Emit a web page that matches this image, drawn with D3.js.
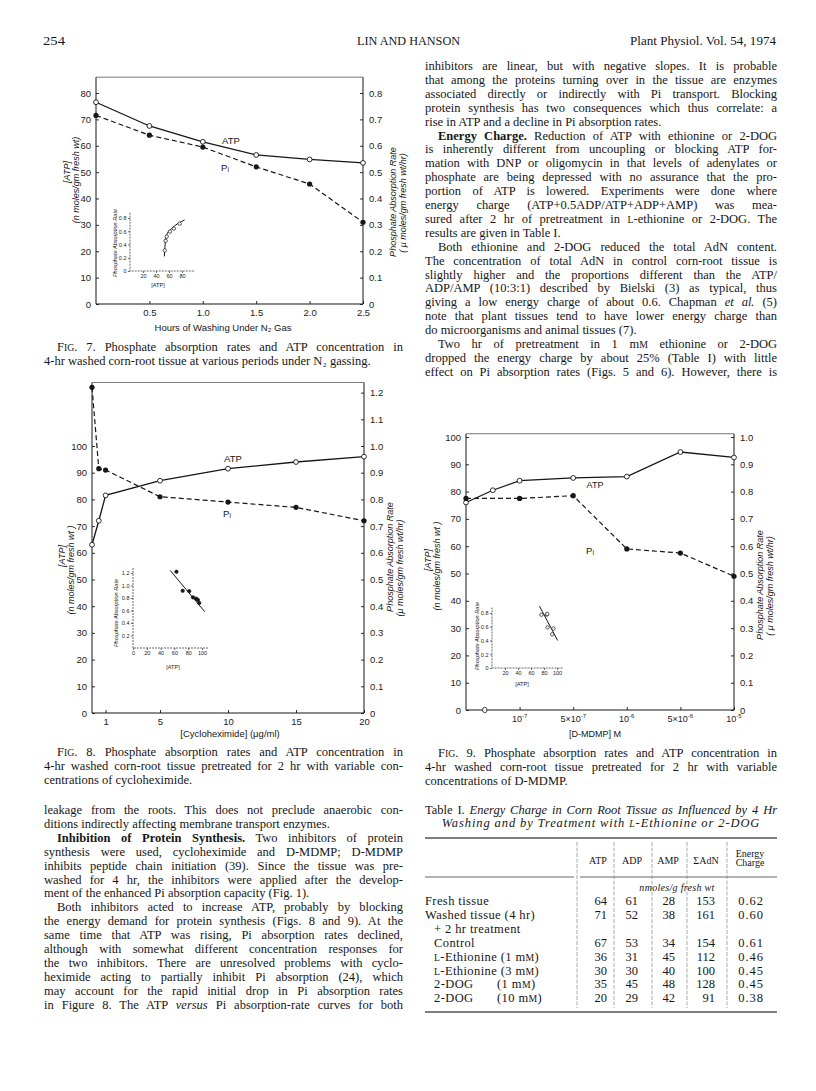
<!DOCTYPE html>
<html>
<head>
<meta charset="utf-8">
<script src="https://cdn.jsdelivr.net/npm/d3@7/dist/d3.min.js"></script>
<style>
  body { margin: 0; background: #fff; }
  svg { display: block; }
</style>
</head>
<body>
<svg id="page" width="816" height="1091"></svg>
<script>
// Fig. 7 - hours of washing under N2
const hoursN2 = [0, 0.5, 1.0, 1.5, 2.0, 2.5];
const atpN2 = [76.5, 67.5, 61.5, 56.5, 54.8, 53.5];
const piN2 = [0.715, 0.64, 0.595, 0.52, 0.455, 0.31];
const fitN2 = [[52.8, 0.22], [54.5, 0.45], [57, 0.56], [64, 0.64], [84, 0.77]];

// Fig. 8 - cycloheximide (ug/ml)
const cycloDose = [0, 0.5, 1, 5, 10, 15, 20];
const atpCyclo = [63, 72, 81.5, 87, 91.5, 94, 96];
const piCyclo = [1.22, 0.915, 0.91, 0.81, 0.79, 0.77, 0.72];
const fitCyclo = [[54, 1.24], [104, 0.58]];

// Fig. 9 - D-MDMP (M)
const mdmpAtpConc = [0, 5e-8, 1e-7, 5e-7, 1e-6, 5e-6, 1e-5];
const atpMdmp = [76, 80.5, 84, 85, 85.5, 94.5, 92.5];
const mdmpPiConc = [0, 1e-7, 5e-7, 1e-6, 5e-6, 1e-5];
const piMdmp = [0.775, 0.775, 0.785, 0.59, 0.575, 0.49];
const mdmpTicks = [1e-7, 5e-7, 1e-6, 5e-6, 1e-5];
const mdmpTickLabels = [["10", "-7"], ["5×10", "-7"], ["10", "-6"], ["5×10", "-6"], ["10", "-5"]];
const fitMdmp = [[73, 0.9], [101, 0.4]];

// Table I
const tableRows = ["Fresh tissue", "Washed tissue (4 hr)", "+ 2 hr treatment", "Control",
  "^L^-Ethionine (1 m^M^)", "^L^-Ethionine (3 m^M^)", "2-DOG", "2-DOG"];
const tableDose = ["", "", "", "", "", "", "(1 m^M^)", "(10 m^M^)"];
const tableAtp = [64, 71, null, 67, 36, 30, 35, 20];
const tableAdp = [61, 52, null, 53, 31, 30, 45, 29];
const tableAmp = [28, 38, null, 34, 45, 40, 48, 42];
const tableAdn = [153, 161, null, 154, 112, 100, 128, 91];
const tableCharge = [0.62, 0.60, null, 0.61, 0.46, 0.45, 0.45, 0.38];

// body text: [line, indented, justified]
const leftText = [
  ["leakage from the roots. This does not preclude anaerobic con-", 0, 1],
  ["ditions indirectly affecting membrane transport enzymes.", 0, 0],
  ["**Inhibition of Protein Synthesis.** Two inhibitors of protein", 1, 1],
  ["synthesis were used, cycloheximide and D-MDMP; D-MDMP", 0, 1],
  ["inhibits peptide chain initiation (39). Since the tissue was pre-", 0, 1],
  ["washed for 4 hr, the inhibitors were applied after the develop-", 0, 1],
  ["ment of the enhanced Pi absorption capacity (Fig. 1).", 0, 0],
  ["Both inhibitors acted to increase ATP, probably by blocking", 1, 1],
  ["the energy demand for protein synthesis (Figs. 8 and 9). At the", 0, 1],
  ["same time that ATP was rising, Pi absorption rates declined,", 0, 1],
  ["although with somewhat different concentration responses for", 0, 1],
  ["the two inhibitors. There are unresolved problems with cyclo-", 0, 1],
  ["heximide acting to partially inhibit Pi absorption (24), which", 0, 1],
  ["may account for the rapid initial drop in Pi absorption rates", 0, 1],
  ["in Figure 8. The ATP _versus_ Pi absorption-rate curves for both", 0, 1]
];
const rightText = [
  ["inhibitors are linear, but with negative slopes. It is probable", 0, 1],
  ["that among the proteins turning over in the tissue are enzymes", 0, 1],
  ["associated directly or indirectly with Pi transport. Blocking", 0, 1],
  ["protein synthesis has two consequences which thus correlate: a", 0, 1],
  ["rise in ATP and a decline in Pi absorption rates.", 0, 0],
  ["**Energy Charge.** Reduction of ATP with ethionine or 2-DOG", 1, 1],
  ["is inherently different from uncoupling or blocking ATP for-", 0, 1],
  ["mation with DNP or oligomycin in that levels of adenylates or", 0, 1],
  ["phosphate are being depressed with no assurance that the pro-", 0, 1],
  ["portion of ATP is lowered. Experiments were done where", 0, 1],
  ["energy charge (ATP+0.5ADP/ATP+ADP+AMP) was mea-", 0, 1],
  ["sured after 2 hr of pretreatment in ^L^-ethionine or 2-DOG. The", 0, 1],
  ["results are given in Table I.", 0, 0],
  ["Both ethionine and 2-DOG reduced the total AdN content.", 1, 1],
  ["The concentration of total AdN in control corn-root tissue is", 0, 1],
  ["slightly higher and the proportions different than the ATP/", 0, 1],
  ["ADP/AMP (10:3:1) described by Bielski (3) as typical, thus", 0, 1],
  ["giving a low energy charge of about 0.6. Chapman _et al._ (5)", 0, 1],
  ["note that plant tissues tend to have lower energy charge than", 0, 1],
  ["do microorganisms and animal tissues (7).", 0, 0],
  ["Two hr of pretreatment in 1 m^M^ ethionine or 2-DOG", 1, 1],
  ["dropped the energy charge by about 25% (Table I) with little", 0, 1],
  ["effect on Pi absorption rates (Figs. 5 and 6). However, there is", 0, 1]
];
const cap7 = [
  ["F^IG^. 7. Phosphate absorption rates and ATP concentration in", 1, 1],
  ["4-hr washed corn-root tissue at various periods under N₂ gassing.", 0, 0]
];
const cap8 = [
  ["F^IG^. 8. Phosphate absorption rates and ATP concentration in", 1, 1],
  ["4-hr washed corn-root tissue pretreated for 2 hr with variable con-", 0, 1],
  ["centrations of cycloheximide.", 0, 0]
];
const cap9 = [
  ["F^IG^. 9. Phosphate absorption rates and ATP concentration in", 1, 1],
  ["4-hr washed corn-root tissue pretreated for 2 hr with variable", 0, 1],
  ["concentrations of D-MDMP.", 0, 0]
];

const svg = d3.select("#page");
const SERIF = "'Liberation Serif','Times New Roman',serif";
const SANS = "'Liberation Sans',Arial,sans-serif";
const INK = "#161616";
const STEP = 13.9;
const fmtRate = d => d === 0 ? "0" : d3.format(".1f")(d);

// one line of text, simple markup: **bold**, _italic_, ^small caps^
function drawLine(g, str, x, y, width, o = {}) {
  const size = o.size || 12.5;
  const t = g.append("text").attr("x", x).attr("y", y)
    .attr("font-family", SERIF).attr("font-size", size).attr("fill", INK);
  if (o.italic) t.attr("font-style", "italic");
  if (o.anchor) t.attr("text-anchor", o.anchor);
  if (o.ls) t.attr("letter-spacing", o.ls);
  let plain = "";
  str.split(/(\*\*[^*]+\*\*|_[^_]+_|\^[^^]+\^)/).filter(p => p).forEach(p => {
    let seg = p, ts;
    if (p.startsWith("**")) { seg = p.slice(2, -2); ts = t.append("tspan").attr("font-weight", "bold"); }
    else if (p.startsWith("_") && p.length > 2) { seg = p.slice(1, -1); ts = t.append("tspan").attr("font-style", "italic"); }
    else if (p.startsWith("^")) { seg = p.slice(1, -1); ts = t.append("tspan").attr("font-size", size * 0.78); }
    else ts = t.append("tspan");
    ts.text(seg);
    plain += seg;
  });
  if (width) {
    const gaps = (plain.match(/ /g) || []).length;
    const natural = t.node().getComputedTextLength();
    if (gaps) t.attr("word-spacing", ((width - natural) / gaps).toFixed(2));
  }
  return t;
}

function paragraph(lines, x0, x1, y0) {
  lines.forEach(([s, ind, just], i) => {
    const x = x0 + (ind ? 13 : 0);
    drawLine(svg, s, x, y0 + i * STEP, just ? x1 - x : 0);
  });
}

function sansText(g, str, x, y, size, o = {}) {
  const t = g.append("text").attr("font-family", SANS).attr("font-size", size)
    .attr("fill", INK).attr("text-anchor", o.anchor || "middle")
    .attr("dominant-baseline", "central");
  if (o.italic) t.attr("font-style", "italic");
  if (o.rotate) t.attr("transform", `translate(${x},${y}) rotate(-90)`);
  else t.attr("x", x).attr("y", y);
  t.text(str);
  return t;
}

function piLabel(g, x, y) {
  const t = g.append("text").attr("x", x).attr("y", y).attr("font-family", SANS)
    .attr("font-size", 9.5).attr("fill", INK).attr("text-anchor", "middle")
    .attr("dominant-baseline", "central");
  t.append("tspan").text("P");
  t.append("tspan").attr("font-size", 7).attr("dy", 1.5).text("i");
}

function styleAxis(a, size) {
  a.select(".domain").remove();
  a.selectAll(".tick line").attr("stroke", INK).attr("stroke-width", 0.9);
  a.selectAll(".tick text").attr("font-family", SANS).attr("font-size", size).attr("fill", "#222");
}

function dualChart(c) {
  const g = svg.append("g");
  const r = c.x.range();
  const x0 = r[0], x1 = r[r.length - 1];
  const yBot = c.yL(0), yTop = c.yL(c.top);
  g.append("path").attr("fill", "none").attr("stroke", INK).attr("stroke-width", 1)
    .attr("d", `M${x0},${yTop}V${yBot}H${x1}V${yTop}`);
  g.append("line").attr("x1", x0).attr("x2", x1).attr("y1", yTop).attr("y2", yTop)
    .attr("stroke", "#555").attr("stroke-width", 0.8);

  styleAxis(g.append("g").attr("transform", `translate(${x0},0)`)
    .call(d3.axisLeft(c.yL).tickValues(c.leftTicks).tickSize(-3).tickPadding(5).tickFormat(d3.format("d"))), 9.5);
  styleAxis(g.append("g").attr("transform", `translate(${x1},0)`)
    .call(d3.axisRight(c.yR).tickValues(c.rightTicks).tickSize(-3).tickPadding(6).tickFormat(fmtRate)), 9.5);
  styleAxis(g.append("g").attr("transform", `translate(0,${yBot})`)
    .call(d3.axisBottom(c.x).tickValues(c.xTicks).tickSize(-3).tickPadding(5).tickFormat(c.xFormat || (() => ""))), 9.5);

  const atpPts = d3.zip(c.atpX, c.atp);
  const piPts = d3.zip(c.piX, c.pi);
  g.append("path").datum(atpPts).attr("fill", "none").attr("stroke", INK).attr("stroke-width", 1.3)
    .attr("d", d3.line().x(d => c.x(d[0])).y(d => c.yL(d[1])));
  g.append("path").datum(piPts).attr("fill", "none").attr("stroke", INK).attr("stroke-width", 1.2)
    .attr("stroke-dasharray", "5,3")
    .attr("d", d3.line().x(d => c.x(d[0])).y(d => c.yR(d[1])));
  g.selectAll(".atp").data(atpPts).join("circle")
    .attr("cx", d => c.x(d[0])).attr("cy", d => c.yL(d[1])).attr("r", 2.4)
    .attr("fill", "#fff").attr("stroke", INK).attr("stroke-width", 0.9);
  g.selectAll(".pi").data(piPts).join("circle")
    .attr("cx", d => c.x(d[0])).attr("cy", d => c.yR(d[1])).attr("r", 2.6).attr("fill", INK);
  return g;
}

function inset(c) {
  const g = svg.append("g");
  const x = d3.scaleLinear([0, 100], c.xr);
  const y = d3.scaleLinear([0, c.yMax], c.yr);
  g.append("path").attr("fill", "none").attr("stroke", "#444").attr("stroke-width", 0.8)
    .attr("stroke-dasharray", "2,1")
    .attr("d", `M${x(0)},${y(c.yEnd)}V${y(0)}H${x(c.xEnd)}`);
  styleAxis(g.append("g").attr("transform", `translate(${x(0)},0)`)
    .call(d3.axisLeft(y).tickValues(c.yTicks).tickSize(2).tickPadding(1.5).tickFormat(fmtRate)), 5.5);
  styleAxis(g.append("g").attr("transform", `translate(0,${y(0)})`)
    .call(d3.axisBottom(x).tickValues(c.xTicks).tickSize(2).tickPadding(1.5)), 5.5);
  g.selectAll(".tick line").attr("stroke-width", 0.6);
  g.append("path").datum(c.fit).attr("fill", "none").attr("stroke", INK).attr("stroke-width", 1)
    .attr("d", d3.line().x(d => x(d[0])).y(d => y(d[1])).curve(d3.curveMonotoneX));
  g.selectAll("circle").data(c.pts).join("circle")
    .attr("cx", d => x(d[0])).attr("cy", d => y(d[1])).attr("r", 1.7)
    .attr("fill", c.filled ? INK : "#fff").attr("stroke", INK).attr("stroke-width", 0.7);
  sansText(g, "Phosphate  Absorption  Rate", c.yTitle[0], c.yTitle[1], 5.6, { italic: true, rotate: true });
  sansText(g, "[ATP]", c.xTitle[0], c.xTitle[1], 5.6);
}

// ---------- header ----------
const hdr = svg.append("g").attr("font-family", SERIF).attr("font-size", 13.5).attr("fill", INK);
hdr.append("text").attr("x", 43).attr("y", 45).attr("textLength", 22).attr("lengthAdjust", "spacingAndGlyphs").text("254");
hdr.append("text").attr("x", 357).attr("y", 45).attr("textLength", 103).attr("lengthAdjust", "spacingAndGlyphs").text("LIN AND HANSON");
hdr.append("text").attr("x", 630).attr("y", 45).attr("textLength", 146).attr("lengthAdjust", "spacingAndGlyphs").text("Plant Physiol. Vol. 54, 1974");

// ---------- Fig. 7 ----------
const g7 = dualChart({
  x: d3.scaleLinear([0, 2.5], [96, 363]),
  yL: d3.scaleLinear([0, 80], [304, 93]),
  yR: d3.scaleLinear([0, 0.8], [304, 93]),
  top: 86,
  leftTicks: d3.range(0, 81, 10),
  rightTicks: d3.range(0, 9).map(i => i / 10),
  xTicks: [0.5, 1, 1.5, 2, 2.5],
  xFormat: d3.format(".1f"),
  atpX: hoursN2, atp: atpN2, piX: hoursN2, pi: piN2
});
sansText(g7, "ATP", 231, 140, 9.5);
piLabel(g7, 225, 167);
sansText(g7, "[ATP]", 67, 172, 9, { italic: true, rotate: true });
sansText(g7, "(n moles/gm  fresh wt)", 76, 180, 9, { italic: true, rotate: true });
sansText(g7, "Phosphate   Absorption   Rate", 393, 202, 9, { italic: true, rotate: true });
sansText(g7, "( μ moles/gm   fresh wt/hr)", 403, 203, 9, { italic: true, rotate: true });
sansText(g7, "Hours  of  Washing  Under  N₂  Gas", 223, 327, 9.5);
inset({
  xr: [130, 195], yr: [271, 218], yMax: 0.8, xEnd: 100, yEnd: 0.88,
  yTicks: [0, 0.2, 0.4, 0.6, 0.8], xTicks: [20, 40, 60, 80],
  pts: d3.zip(atpN2, piN2), fit: fitN2, filled: false,
  yTitle: [115, 243], xTitle: [158, 285]
});
paragraph(cap7, 44, 403, 351);

// ---------- Fig. 8 ----------
const g8 = dualChart({
  x: d3.scaleLinear([0, 20], [92, 364]),
  yL: d3.scaleLinear([0, 100], [713, 446]),
  yR: d3.scaleLinear([0, 1.0], [713, 446]),
  top: 123.8,
  leftTicks: d3.range(0, 101, 10),
  rightTicks: d3.range(0, 13).map(i => i / 10),
  xTicks: [1, 5, 10, 15, 20],
  xFormat: d3.format("d"),
  atpX: cycloDose, atp: atpCyclo, piX: cycloDose, pi: piCyclo
});
sansText(g8, "ATP", 233, 458, 9.5);
piLabel(g8, 227, 513);
sansText(g8, "[ATP]", 62, 556, 9, { italic: true, rotate: true });
sansText(g8, "(n moles/gm  fresh wt )", 71, 570, 9, { italic: true, rotate: true });
sansText(g8, "Phosphate   Absorption   Rate", 390, 557, 9, { italic: true, rotate: true });
sansText(g8, "(μ moles/gm   fresh wt/hr)", 400, 568, 9, { italic: true, rotate: true });
sansText(g8, "[Cycloheximide]  (μg/ml)", 230, 733, 9.5);
inset({
  xr: [133, 202], yr: [648, 573], yMax: 1.2, xEnd: 109, yEnd: 1.28,
  yTicks: [0.2, 0.4, 0.6, 0.8, 1.0, 1.2], xTicks: [0, 20, 40, 60, 80, 100],
  pts: d3.zip(atpCyclo, piCyclo), fit: fitCyclo, filled: true,
  yTitle: [116, 613], xTitle: [173, 667]
});
paragraph(cap8, 44, 403, 756);

// ---------- Fig. 9 ----------
const mdmpDomain = [0].concat(mdmpTicks);
const x9 = d3.scaleLinear().domain(mdmpDomain)
  .range(mdmpDomain.map((d, i) => 466 + i * (734 - 466) / (mdmpDomain.length - 1)));
const y9 = d3.scaleLinear([0, 100], [710, 437]);
const g9 = dualChart({
  x: x9,
  yL: y9,
  yR: d3.scaleLinear([0, 1.0], [710, 437]),
  top: 101.2,
  leftTicks: d3.range(0, 101, 10),
  rightTicks: d3.range(0, 11).map(i => i / 10),
  xTicks: mdmpTicks,
  atpX: mdmpAtpConc, atp: atpMdmp, piX: mdmpPiConc, pi: piMdmp
});
mdmpTicks.forEach((v, i) => {
  const t = g9.append("text").attr("x", x9(v)).attr("y", 722).attr("text-anchor", "middle")
    .attr("font-family", SANS).attr("font-size", 9).attr("fill", "#222");
  t.append("tspan").text(mdmpTickLabels[i][0]);
  t.append("tspan").attr("dy", -4).attr("font-size", 6).text(mdmpTickLabels[i][1]);
});
// axis break mark near the origin
g9.append("ellipse").attr("cx", x9(3.5e-8)).attr("cy", y9(0))
  .attr("rx", 2.2).attr("ry", 2.8).attr("fill", "#fff").attr("stroke", INK).attr("stroke-width", 0.8);
sansText(g9, "ATP", 595, 485, 9);
piLabel(g9, 590, 550);
sansText(g9, "[ATP]", 428, 560, 9, { italic: true, rotate: true });
sansText(g9, "(n moles/gm  fresh wt )", 437, 566, 9, { italic: true, rotate: true });
sansText(g9, "Phosphate   Absorption   Rate", 760, 585, 9, { italic: true, rotate: true });
sansText(g9, "( μ moles/gm   fresh wt/hr)", 770, 586, 9, { italic: true, rotate: true });
sansText(g9, "[D-MDMP]   M", 595, 734, 9);
inset({
  xr: [492, 557], yr: [668, 613], yMax: 0.8, xEnd: 110, yEnd: 0.88,
  yTicks: [0, 0.2, 0.4, 0.6, 0.8], xTicks: [20, 40, 60, 80, 100],
  pts: mdmpPiConc.map((c, i) => [atpMdmp[mdmpAtpConc.indexOf(c)], piMdmp[i]]),
  fit: fitMdmp, filled: false,
  yTitle: [477, 636], xTitle: [522, 684]
});
paragraph(cap9, 425, 777, 757);

// ---------- body text ----------
paragraph(rightText, 425, 777, 70);
paragraph(leftText, 44, 403, 814);

// ---------- Table I ----------
const tg = svg.append("g");
drawLine(tg, "Table I. _Energy Charge in Corn Root Tissue as Influenced by 4 Hr_", 425, 814, 352);
drawLine(tg, "Washing and by Treatment with ^L^-Ethionine or 2-DOG", 601, 827, 0, { italic: true, anchor: "middle", ls: 0.9 });
const rule = (y, xa, xb, w) => tg.append("line").attr("x1", xa).attr("x2", xb).attr("y1", y).attr("y2", y)
  .attr("stroke", "#555").attr("stroke-width", w);
rule(838, 425, 777, 1.6);
rule(877, 425, 574, 0.9);
rule(877, 580, 777, 0.9);
rule(1012, 425, 777, 1.6);
[577, 614, 652, 687, 727].forEach(xv => tg.append("line").attr("x1", xv).attr("x2", xv)
  .attr("y1", 842).attr("y2", 1008).attr("stroke", "#888").attr("stroke-width", 0.7)
  .attr("stroke-dasharray", "4,1.5"));
const heads = [["ATP", 598], ["ADP", 632], ["AMP", 668], ["ΣAdN", 706]];
heads.forEach(([h, xv]) => drawLine(tg, h, xv, 864, 0, { size: 10, anchor: "middle" }));
drawLine(tg, "Energy", 750, 857, 0, { size: 10, anchor: "middle" });
drawLine(tg, "Charge", 750, 866, 0, { size: 10, anchor: "middle" });
drawLine(tg, "nmoles/g fresh wt", 677, 891, 0, { size: 10, italic: true, anchor: "middle", ls: 0.3 });
const cols = [[tableAtp, 607, d3.format("d")], [tableAdp, 638, d3.format("d")], [tableAmp, 675, d3.format("d")],
  [tableAdn, 715, d3.format("d")], [tableCharge, 764, d3.format(".2f")]];
tableRows.forEach((label, i) => {
  const y = 905 + i * STEP;
  const indent = i >= 2 ? 9 : 0;
  drawLine(tg, label, 425 + indent, y, 0, { ls: 0.4 });
  if (tableDose[i]) drawLine(tg, tableDose[i], 497, y, 0, { ls: 0.4 });
  cols.forEach(([arr, xr, f]) => {
    if (arr[i] !== null) drawLine(tg, f(arr[i]), xr, y, 0, { anchor: "end", ls: arr === tableCharge ? 1 : 0 });
  });
});
</script>
</body>
</html>
